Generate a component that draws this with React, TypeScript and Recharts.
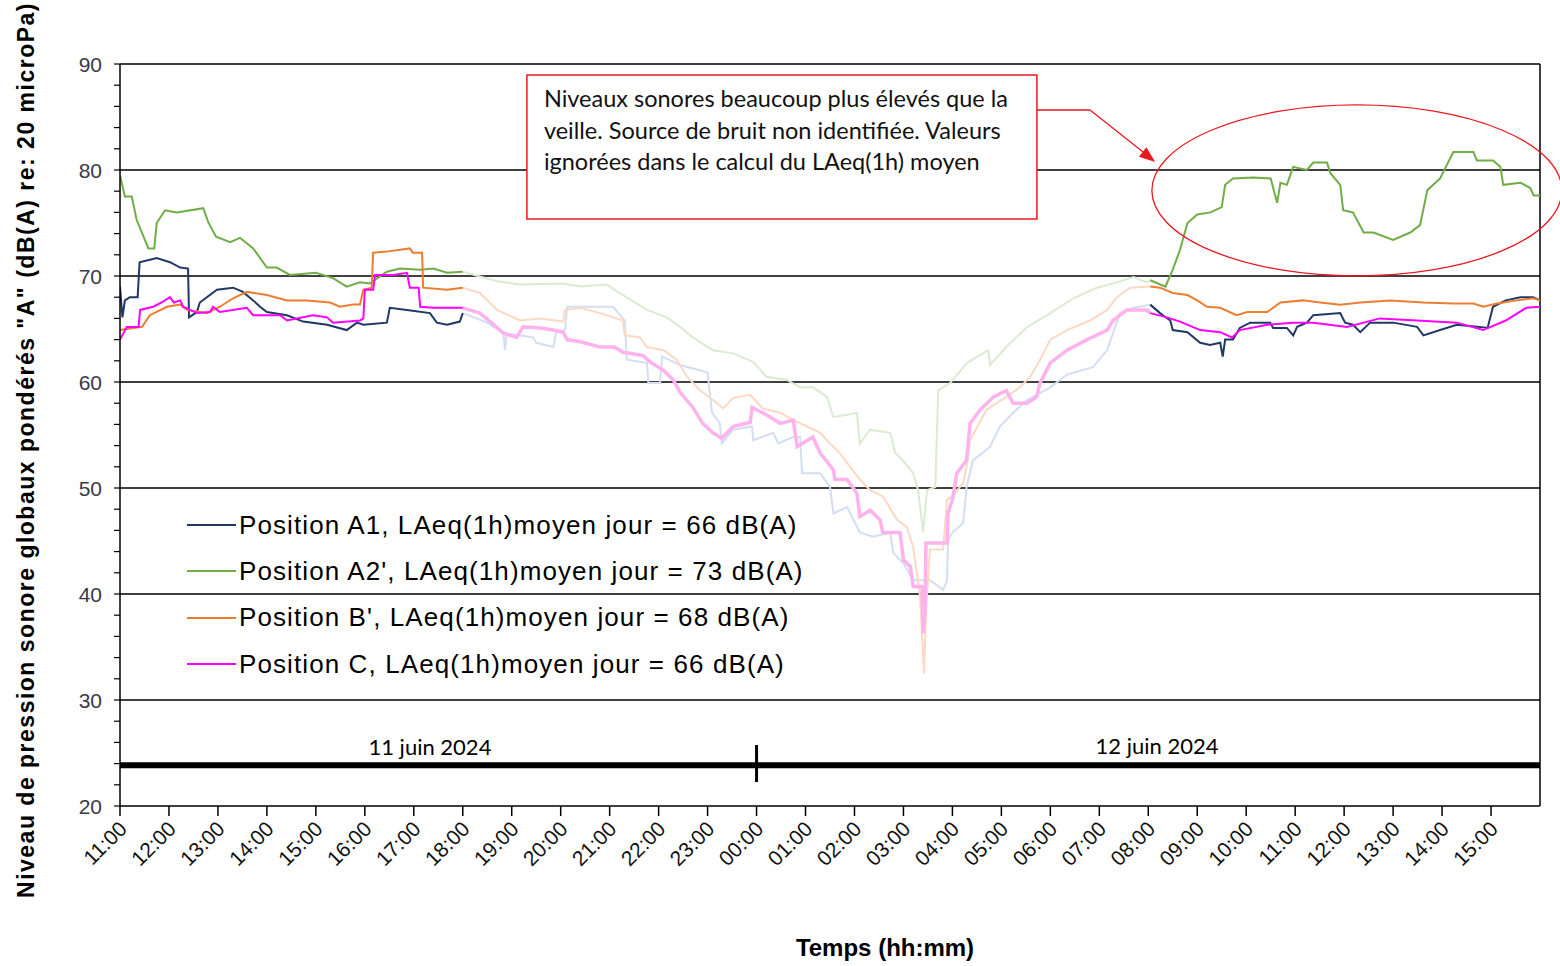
import React from 'react';
import {
  LineChart,
  Line,
  XAxis,
  YAxis,
  ReferenceLine,
  ReferenceDot,
} from 'recharts';

// ---------- DATA ----------
// hours elapsed since 11:00 on 11 June 2024
const hourTicks = [0, 1, 2, 3, 4, 5, 6, 7, 8, 9, 10, 11, 12, 13, 14, 15, 16, 17, 18, 19, 20, 21, 22, 23, 24, 25, 26, 27, 28];
const hourLabels = [
  '11:00', '12:00', '13:00', '14:00', '15:00', '16:00', '17:00', '18:00', '19:00', '20:00', '21:00', '22:00', '23:00',
  '00:00', '01:00', '02:00', '03:00', '04:00', '05:00', '06:00', '07:00', '08:00', '09:00', '10:00', '11:00', '12:00',
  '13:00', '14:00', '15:00',
];
const levelTicks = [20, 22, 24, 26, 28, 30, 32, 34, 36, 38, 40, 42, 44, 46, 48, 50, 52, 54, 56, 58, 60, 62, 64, 66, 68, 70, 72, 74, 76, 78, 80, 82, 84, 86, 88, 90];
const gridLevels = [30, 40, 50, 60, 70, 80, 90];

const seriesNames = [
  "Position A1, LAeq(1h)moyen jour = 66 dB(A)",
  "Position A2', LAeq(1h)moyen jour = 73 dB(A)",
  "Position B', LAeq(1h)moyen jour = 68 dB(A)",
  "Position C, LAeq(1h)moyen jour = 66 dB(A)",
];
const dateLabels = ['11 juin 2024', '12 juin 2024'];
const noteLines = [
  'Niveaux sonores beaucoup plus élevés que la',
  'veille. Source de bruit non identifiée. Valeurs',
  'ignorées dans le calcul du LAeq(1h) moyen',
];

// [hour, dB(A)]
const posA1: [number, number][] = [
  [0, 69.0], [0.05, 66.1], [0.1, 67.7], [0.2, 68.0], [0.36, 68.0], [0.4, 71.3], [0.75, 71.7], [1.02, 71.3], [1.23, 70.8],
  [1.39, 70.7], [1.41, 66.1], [1.57, 66.6], [1.63, 67.5], [1.98, 68.7], [2.31, 68.9], [2.51, 68.5], [2.72, 67.7], [2.86, 67.1],
  [3.0, 66.6], [3.41, 66.3], [3.74, 65.7], [4.23, 65.4], [4.63, 64.9], [4.84, 65.6], [4.97, 65.4], [5.45, 65.6], [5.51, 67.0],
  [5.86, 66.8], [6.33, 66.5], [6.47, 65.6], [6.68, 65.4], [6.94, 65.7], [7.0, 66.5],
  [7.5, 65.6], [7.83, 64.6], [7.86, 63.0], [7.9, 64.6], [8.44, 64.2], [8.5, 63.7], [8.85, 63.3], [8.9, 64.6], [9.09, 64.9],
  [9.13, 67.1], [9.4, 67.1], [10.07, 67.1], [10.31, 65.8], [10.35, 62.1], [10.76, 61.8], [10.79, 59.9], [11.03, 59.9],
  [11.07, 62.4], [11.44, 61.6], [12.0, 60.9], [12.09, 57.1], [12.25, 56.1], [12.29, 54.2], [12.52, 55.5], [12.91, 55.8],
  [12.93, 54.5], [13.34, 55.2], [13.44, 54.2], [13.75, 54.8], [13.89, 54.8], [13.93, 51.4], [14.3, 51.4], [14.5, 50.1],
  [14.57, 47.6], [14.85, 48.2], [15.11, 45.8], [15.38, 45.4], [15.73, 45.8], [15.79, 43.9], [16.0, 42.9], [16.2, 41.3],
  [16.54, 41.3], [16.81, 40.4], [16.89, 41.3], [16.91, 45.1], [17.0, 45.8], [17.22, 46.7], [17.29, 50.1], [17.42, 52.6],
  [17.77, 53.9], [17.97, 55.8], [18.24, 57.1], [18.52, 58.3], [19.0, 59.5], [19.34, 60.7], [19.87, 61.4], [20.16, 63.0],
  [20.28, 64.6], [20.42, 66.5], [20.7, 67.0], [21.04, 67.3],
  [21.24, 66.5], [21.45, 65.8], [21.5, 64.9], [21.8, 64.7], [22.06, 63.7], [22.26, 63.5], [22.47, 63.7], [22.52, 62.4],
  [22.57, 64.0], [22.73, 64.0], [22.87, 65.1], [23.08, 65.6], [23.49, 65.6], [23.55, 65.1], [23.83, 65.1], [23.96, 64.4],
  [24.04, 65.2], [24.24, 65.6], [24.37, 66.3], [24.92, 66.5], [25.02, 65.6], [25.18, 65.4], [25.33, 64.7], [25.53, 65.6],
  [26.0, 65.6], [26.49, 65.2], [26.62, 64.4], [26.96, 64.9], [27.3, 65.4], [27.77, 65.2], [27.93, 65.1], [28.04, 67.1],
  [28.3, 67.7], [28.6, 68.0], [28.86, 68.0], [29, 67.7],
];

const posA2: [number, number][] = [
  [0, 79.5], [0.1, 77.5], [0.24, 77.5], [0.34, 75.3], [0.58, 72.6], [0.7, 72.6], [0.75, 75.0], [0.92, 76.2], [1.16, 76.0],
  [1.7, 76.4], [1.8, 75.1], [1.96, 73.7], [2.25, 73.2], [2.45, 73.6], [2.72, 72.6], [3.0, 70.8], [3.2, 70.8], [3.47, 70.1],
  [4.0, 70.3], [4.35, 69.8], [4.63, 69.0], [4.9, 69.4], [5.1, 69.3], [5.45, 70.4], [5.72, 70.7], [6.13, 70.6], [6.4, 70.7],
  [6.68, 70.3], [7.0, 70.4],
  [7.7, 69.5], [8.17, 69.2], [9.05, 69.3], [9.4, 69.0], [9.94, 69.2], [10.2, 68.4], [10.76, 66.8], [11.17, 66.1],
  [11.44, 65.2], [11.7, 64.2], [12.11, 63.0], [12.52, 62.7], [12.93, 61.9], [13.2, 60.5], [13.62, 60.2], [13.89, 59.5],
  [14.15, 59.5], [14.44, 58.6], [14.57, 56.7], [14.85, 56.9], [15.05, 57.1], [15.11, 54.2], [15.32, 55.5], [15.73, 55.2],
  [15.83, 53.3], [15.93, 52.9], [16.2, 51.4], [16.3, 49.8], [16.4, 45.8], [16.48, 49.8], [16.65, 50.1], [16.71, 59.2],
  [16.95, 59.9], [17.3, 61.8], [17.73, 63.0], [17.77, 61.6], [18.1, 63.3], [18.5, 65.1], [19.0, 66.5], [19.47, 67.9],
  [19.95, 68.9], [20.36, 69.4], [20.7, 69.9], [20.97, 69.4], [21.04, 69.6],
  [21.35, 69.0], [21.5, 70.6], [21.65, 72.5], [21.8, 75.0], [22.0, 75.8], [22.27, 76.0], [22.5, 76.5], [22.57, 78.6],
  [22.73, 79.2], [23.15, 79.3], [23.5, 79.2], [23.63, 76.9], [23.7, 78.8], [23.83, 78.6], [23.96, 80.3], [24.24, 80.0],
  [24.37, 80.7], [24.65, 80.7], [24.72, 79.7], [24.92, 78.6], [24.98, 76.2], [25.18, 76.0], [25.4, 74.1], [25.6, 74.1],
  [26.0, 73.4], [26.35, 74.1], [26.55, 74.8], [26.7, 78.1], [26.96, 79.2], [27.23, 81.7], [27.64, 81.7], [27.71, 80.9],
  [28.04, 80.9], [28.19, 80.3], [28.25, 78.6], [28.6, 78.8], [28.8, 78.3], [28.87, 77.6], [29, 77.6],
];

const posB: [number, number][] = [
  [0, 64.9], [0.27, 65.1], [0.45, 65.2], [0.61, 66.3], [0.96, 67.1], [1.23, 67.3], [1.37, 66.8], [1.63, 66.6], [1.77, 66.5],
  [2.04, 67.1], [2.31, 67.9], [2.59, 68.5], [3.0, 68.2], [3.41, 67.7], [3.82, 67.7], [4.29, 67.5], [4.49, 67.1], [4.76, 67.3],
  [4.9, 67.3], [4.97, 68.7], [5.14, 68.9], [5.17, 72.2], [5.45, 72.3], [5.92, 72.6], [5.98, 72.2], [6.17, 72.2], [6.19, 68.9],
  [6.68, 68.7], [7.0, 68.9],
  [7.35, 68.4], [7.7, 66.8], [8.17, 65.8], [8.58, 66.0], [9.05, 65.7], [9.09, 66.8], [9.4, 67.0], [9.8, 66.5], [10.27, 65.8],
  [10.31, 64.4], [10.62, 64.2], [10.76, 63.3], [11.1, 63.0], [11.37, 62.1], [11.58, 60.5], [11.85, 59.2], [12.11, 58.3],
  [12.32, 57.5], [12.52, 58.5], [12.87, 58.8], [13.13, 57.5], [13.48, 57.1], [13.75, 56.4], [14.03, 55.8], [14.3, 55.2],
  [14.5, 54.2], [14.7, 53.3], [14.91, 52.0], [15.11, 50.8], [15.32, 49.8], [15.58, 49.2], [15.87, 47.0], [16.07, 46.3],
  [16.2, 44.4], [16.34, 39.7], [16.42, 32.5], [16.46, 38.2], [16.54, 44.2], [16.81, 44.2], [16.89, 48.9], [17.0, 49.2],
  [17.22, 50.5], [17.29, 52.0], [17.36, 54.5], [17.7, 57.4], [18.1, 58.6], [18.38, 59.5], [18.59, 60.5], [18.79, 62.1],
  [19.0, 64.0], [19.34, 64.9], [19.81, 65.8], [20.16, 66.8], [20.36, 68.0], [20.63, 68.9], [21.04, 69.0],
  [21.24, 68.9], [21.5, 68.4], [21.8, 68.2], [22.0, 67.7], [22.2, 67.1], [22.47, 67.0], [22.8, 66.3], [23.02, 66.6],
  [23.43, 66.6], [23.7, 67.5], [24.16, 67.7], [24.51, 67.5], [24.92, 67.3], [25.33, 67.5], [25.94, 67.7], [26.62, 67.5],
  [27.23, 67.4], [27.64, 67.4], [27.84, 67.1], [28.12, 67.4], [28.53, 67.7], [28.86, 67.9], [29, 67.7],
];

const posC: [number, number][] = [
  [0, 64.0], [0.14, 65.2], [0.38, 65.2], [0.41, 66.8], [0.68, 67.1], [0.85, 67.5], [1.02, 68.0], [1.1, 67.5], [1.23, 67.7],
  [1.29, 67.1], [1.57, 66.5], [1.84, 66.6], [1.9, 67.1], [2.04, 66.6], [2.59, 67.0], [2.72, 66.3], [3.27, 66.3], [3.41, 65.8],
  [3.94, 66.3], [4.23, 66.1], [4.35, 65.6], [4.9, 65.8], [4.97, 66.0], [5.0, 68.7], [5.17, 68.7], [5.21, 70.1], [5.58, 70.1],
  [5.86, 70.3], [5.92, 68.9], [6.1, 68.9], [6.13, 67.1], [6.4, 67.0], [7.0, 67.0],
  [7.35, 66.5], [7.56, 65.7], [7.83, 64.6], [8.1, 64.2], [8.23, 65.2], [8.58, 65.1], [8.85, 64.9], [9.05, 64.7], [9.13, 64.0],
  [9.4, 63.8], [9.8, 63.3], [10.1, 63.3], [10.27, 62.8], [10.68, 62.5], [10.82, 61.9], [11.1, 61.1], [11.3, 60.2],
  [11.44, 59.0], [11.7, 57.6], [11.9, 56.1], [12.11, 55.2], [12.29, 54.7], [12.52, 55.8], [12.87, 56.2], [12.91, 57.6],
  [13.2, 56.9], [13.48, 56.1], [13.75, 56.4], [13.83, 53.9], [14.15, 54.8], [14.3, 53.3], [14.57, 51.7], [14.6, 50.8],
  [14.85, 50.8], [15.05, 49.5], [15.11, 47.3], [15.32, 47.9], [15.52, 47.0], [15.58, 45.8], [15.93, 45.8], [16.0, 43.2],
  [16.14, 42.6], [16.2, 40.7], [16.38, 40.7], [16.4, 36.3], [16.44, 38.2], [16.46, 44.8], [16.89, 44.8], [16.91, 47.6],
  [17.0, 48.9], [17.09, 51.4], [17.29, 52.6], [17.36, 56.1], [17.57, 57.4], [17.84, 58.6], [18.1, 59.2], [18.24, 58.0],
  [18.52, 58.0], [18.72, 58.6], [18.79, 59.9], [19.0, 61.8], [19.34, 63.0], [19.75, 64.0], [20.16, 64.9], [20.28, 65.8],
  [20.56, 66.8], [20.97, 66.8], [21.04, 66.5],
  [21.38, 66.1], [21.65, 65.7], [22.06, 64.9], [22.47, 64.7], [22.71, 64.2], [22.87, 64.9], [23.43, 65.4], [23.96, 65.6],
  [24.37, 65.6], [25.06, 65.2], [25.73, 66.0], [26.49, 65.8], [27.3, 65.6], [27.84, 64.9], [28.3, 65.8], [28.72, 67.0],
  [29, 67.1],
];

// ---------- STYLE / HELPERS ----------
const DAY_END = 7;
const DAY_START = 21.04;
const FONT = '"Liberation Sans", Arial, sans-serif';
const NOTE_FONT = 'Lato, "Open Sans", sans-serif';
const RED = '#E8191E';

type Pt = { t: number; v: number };
const seg = (pts: [number, number][], lo: number, hi: number): Pt[] =>
  pts.filter(([t]) => t >= lo && t <= hi).map(([t, v]) => ({ t, v }));

const series = [
  { key: 'a1', pts: posA1, color: '#1F3864', faded: '#D3DEF1', fadedWidth: 2 },
  { key: 'a2', pts: posA2, color: '#70AD47', faded: '#DAEBD0', fadedWidth: 2 },
  { key: 'b', pts: posB, color: '#ED7D31', faded: '#FCD9C3', fadedWidth: 2 },
  { key: 'c', pts: posC, color: '#FF00FF', faded: '#FFB2EC', fadedWidth: 3.5 },
];

const XTick = (props: any) => {
  const { x, y, payload } = props;
  const label = hourLabels[Math.round(payload.value)] ?? '';
  return (
    <g transform={`translate(${x + 3},${y + 7})`}>
      <text
        x={0}
        y={0}
        dy="0.35em"
        textAnchor="end"
        transform="rotate(-45)"
        fontSize={21}
        fontFamily={FONT}
        fill="#111"
      >
        {label}
      </text>
    </g>
  );
};

const YTick = (props: any) => {
  const { x, y, payload } = props;
  if (payload.value % 10 !== 0) return <g />;
  return (
    <text x={x - 10} y={y} dy="0.36em" textAnchor="end" fontSize={21} fontFamily={FONT} fill="#3a3a48">
      {payload.value}
    </text>
  );
};

const LegendBox = () => (
  <div
    style={{
      position: 'absolute',
      left: 187,
      top: 502,
      fontFamily: FONT,
      fontSize: 26,
      letterSpacing: 1.1,
      color: '#000',
      pointerEvents: 'none',
    }}
  >
    {seriesNames.map((name, i) => (
      <div key={name} style={{ display: 'flex', alignItems: 'center', height: 46.3, whiteSpace: 'nowrap' }}>
        <div style={{ width: 49, height: 0, borderTop: `2px solid ${series[i].color}`, marginRight: 3 }} />
        <span>{name}</span>
      </div>
    ))}
  </div>
);

export default function App() {
  return (
    <div style={{ position: 'absolute', left: 0, top: 0, width: 1560, height: 966, background: '#fff', overflow: 'hidden' }}>
      <LineChart width={1560} height={966} margin={{ top: 64, right: 20, bottom: 0, left: 0 }}>
        <XAxis
          type="number"
          dataKey="t"
          domain={[0, 29]}
          ticks={hourTicks}
          interval={0}
          allowDataOverflow
          height={160}
          tickSize={10}
          tick={<XTick />}
          axisLine={{ stroke: '#000', strokeWidth: 1.5 }}
          tickLine={{ stroke: '#000', strokeWidth: 1.5 }}
          label={() => (
            <text x={885} y={956} textAnchor="middle" fontSize={24} fontWeight="bold" fontFamily={FONT} fill="#000">
              Temps (hh:mm)
            </text>
          )}
        />
        <YAxis
          type="number"
          domain={[20, 90]}
          ticks={levelTicks}
          interval={0}
          allowDataOverflow
          width={120}
          tickSize={6}
          tick={<YTick />}
          axisLine={{ stroke: '#000', strokeWidth: 1.5 }}
          tickLine={{ stroke: '#000', strokeWidth: 1.2 }}
          label={() => (
            <text
              x={34}
              y={450}
              transform="rotate(-90 34 450)"
              textAnchor="middle"
              fontSize={23}
              letterSpacing={1.5}
              fontWeight="bold"
              fontFamily={FONT}
              fill="#000"
            >
              Niveau de pression sonore globaux pondérés "A" (dB(A) re: 20 microPa)
            </text>
          )}
        />

        {gridLevels.map((g) => (
          <ReferenceLine key={g} y={g} stroke="#000" strokeWidth={1.3} />
        ))}
        <ReferenceLine x={29} stroke="#000" strokeWidth={1.5} />

        {/* night (faded) portions */}
        {series.map((s) => (
          <Line
            key={s.key + '-night'}
            data={seg(s.pts, DAY_END, DAY_START)}
            dataKey="v"
            type="linear"
            stroke={s.faded}
            strokeWidth={s.fadedWidth}
            dot={false}
            activeDot={false}
            isAnimationActive={false}
            legendType="none"
          />
        ))}
        {/* day portions */}
        {series.map((s) => (
          <Line
            key={s.key + '-am'}
            data={seg(s.pts, 0, DAY_END)}
            dataKey="v"
            type="linear"
            stroke={s.color}
            strokeWidth={2}
            dot={false}
            activeDot={false}
            isAnimationActive={false}
            legendType="none"
          />
        ))}
        {series.map((s) => (
          <Line
            key={s.key + '-pm'}
            data={seg(s.pts, DAY_START, 29)}
            dataKey="v"
            type="linear"
            stroke={s.color}
            strokeWidth={2}
            dot={false}
            activeDot={false}
            isAnimationActive={false}
            legendType="none"
          />
        ))}

        {/* date bar */}
        <ReferenceLine y={23.85} stroke="#000" strokeWidth={6} />
        <ReferenceLine segment={[{ x: 13, y: 22.26 }, { x: 13, y: 25.75 }]} stroke="#000" strokeWidth={3} />
        <ReferenceDot
          x={6.33}
          y={24}
          r={0}
          ifOverflow="visible"
          shape={(p: any) => (
            <text x={p.cx} y={p.cy - 9} textAnchor="middle" fontSize={22} fontFamily={NOTE_FONT} fill="#000">
              {dateLabels[0]}
            </text>
          )}
        />
        <ReferenceDot
          x={21.18}
          y={24}
          r={0}
          ifOverflow="visible"
          shape={(p: any) => (
            <text x={p.cx} y={p.cy - 10} textAnchor="middle" fontSize={22} fontFamily={NOTE_FONT} fill="#000">
              {dateLabels[1]}
            </text>
          )}
        />

        {/* annotation: text box anchored at its top-left corner (8.31 h, 88.96 dB) */}
        <ReferenceDot
          x={8.31}
          y={88.96}
          r={0}
          ifOverflow="visible"
          shape={(p: any) => (
            <g>
              <rect x={p.cx} y={p.cy} width={510} height={144} fill="#fff" stroke={RED} strokeWidth={1.5} />
              {noteLines.map((l, i) => (
                <text key={i} x={p.cx + 17} y={p.cy + 32 + i * 31.5} fontSize={23.5} fontFamily={NOTE_FONT} fill="#111">
                  {l}
                </text>
              ))}
            </g>
          )}
        />
        <ReferenceLine segment={[{ x: 18.73, y: 85.66 }, { x: 19.81, y: 85.66 }]} stroke={RED} strokeWidth={1.3} ifOverflow="visible" />
        <ReferenceLine segment={[{ x: 19.81, y: 85.66 }, { x: 21.1, y: 80.95 }]} stroke={RED} strokeWidth={1.3} ifOverflow="visible" />
        <ReferenceDot
          x={21.14}
          y={80.75}
          r={0}
          ifOverflow="visible"
          shape={(p: any) => (
            <polygon
              points="0,0 -16,-6 -16,6"
              transform={`translate(${p.cx},${p.cy}) rotate(38.7)`}
              fill={RED}
            />
          )}
        />
        <ReferenceDot
          x={25.26}
          y={78.07}
          r={0}
          ifOverflow="visible"
          shape={(p: any) => (
            <ellipse cx={p.cx} cy={p.cy} rx={205} ry={85.5} fill="none" stroke={RED} strokeWidth={1.3} />
          )}
        />
      </LineChart>
      <LegendBox />
    </div>
  );
}
